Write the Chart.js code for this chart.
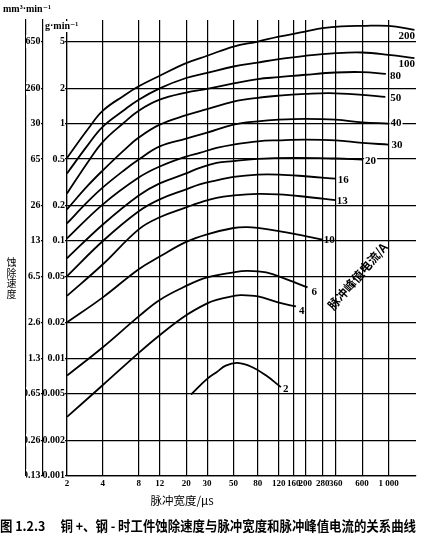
<!DOCTYPE html>
<html><head><meta charset="utf-8">
<script src="https://cdn.jsdelivr.net/npm/chart.js@4.4.1/dist/chart.umd.min.js"></script>
<style>html,body{margin:0;padding:0;background:#fff;}canvas{display:block;}</style>
</head><body>
<canvas id="c" width="432" height="544"></canvas>
<script>
// ---- data (pulse width in µs, erosion rate in g/min) ----
const currents = [200, 100, 80, 50, 40, 30, 20, 16, 13, 10, 6, 4, 2];

const w200 = [2, 3, 4, 6, 8, 12, 20, 30, 50, 80, 120, 200, 280, 400, 600, 1000, 1650];
const v200 = [0.51, 0.90, 1.29, 1.73, 2.08, 2.56, 3.28, 3.79, 4.54, 5.01, 5.52, 6.09, 6.51, 6.75, 6.81, 6.81, 6.30];
const w100 = [2, 3, 4, 6, 8, 12, 20, 30, 50, 80, 120, 200, 360, 600, 1000, 1650];
const v100 = [0.376, 0.659, 0.943, 1.30, 1.60, 2.00, 2.45, 2.71, 3.07, 3.32, 3.55, 3.79, 3.99, 4.04, 3.86, 3.62];
const w80 = [2, 3, 4, 6, 8, 12, 20, 30, 50, 80, 120, 200, 360, 600, 950];
const v80 = [0.254, 0.471, 0.70, 1.017, 1.29, 1.60, 1.84, 1.98, 2.20, 2.40, 2.49, 2.61, 2.73, 2.75, 2.66];
const w50 = [2, 3, 4, 6, 8, 12, 20, 30, 50, 80, 120, 200, 320, 600, 940];
const v50 = [0.186, 0.297, 0.40, 0.592, 0.76, 0.98, 1.18, 1.33, 1.54, 1.66, 1.73, 1.79, 1.82, 1.76, 1.69];
const w40 = [2, 3, 4, 6, 8, 12, 20, 30, 50, 80, 120, 200, 360, 600, 1000];
const v40 = [0.141, 0.217, 0.286, 0.399, 0.494, 0.64, 0.745, 0.838, 0.98, 1.046, 1.08, 1.097, 1.08, 1.026, 1.0];
const w30 = [2, 4, 8, 12, 20, 26, 36, 50, 80, 120, 200, 360, 600, 1000];
const v30 = [0.105, 0.205, 0.347, 0.431, 0.524, 0.563, 0.621, 0.663, 0.707, 0.721, 0.731, 0.721, 0.685, 0.663];
const w20 = [2, 4, 8, 12, 20, 26, 36, 50, 80, 160, 360, 600];
const v20 = [0.0711, 0.138, 0.244, 0.309, 0.376, 0.420, 0.463, 0.478, 0.501, 0.511, 0.504, 0.494];
const w16 = [2, 4, 8, 12, 20, 26, 36, 50, 80, 120, 200, 360];
const v16 = [0.050, 0.0998, 0.179, 0.226, 0.275, 0.303, 0.328, 0.352, 0.368, 0.368, 0.356, 0.339];
const w13 = [2, 4, 8, 12, 20, 26, 36, 50, 80, 120, 200, 360];
const v13 = [0.034, 0.0632, 0.1255, 0.159, 0.193, 0.212, 0.233, 0.244, 0.252, 0.249, 0.238, 0.223];
const w10 = [2, 4, 8, 12, 20, 30, 50, 65, 80, 120, 200, 280];
const v10 = [0.0202, 0.033, 0.0573, 0.0735, 0.098, 0.1138, 0.1288, 0.131, 0.129, 0.1214, 0.110, 0.1026];
const w6 = [2, 4, 8, 12, 20, 30, 50, 65, 94, 138, 209];
const v6 = [0.0071, 0.0124, 0.0227, 0.0314, 0.0413, 0.0488, 0.054, 0.0555, 0.0538, 0.0472, 0.0401];
const w4 = [2, 4, 8, 12, 20, 30, 36, 50, 57, 80, 118, 167];
const v4 = [0.00316, 0.0059, 0.0111, 0.0157, 0.0232, 0.0293, 0.0314, 0.0338, 0.0345, 0.0336, 0.0299, 0.0276];
const w2 = [22, 30, 36, 43, 54, 72, 94, 125];
const v2 = [0.0049, 0.00665, 0.00759, 0.00863, 0.0091, 0.00837, 0.0071, 0.00566];

const xTickValues = [2, 4, 8, 12, 20, 30, 50, 80, 120, 160, 200, 280, 360, 600, 1000];
const xTickLabels = ['2', '4', '8', '12', '20', '30', '50', '80', '120', '160', '200', '280', '360', '600', '1 000'];
const yTickValues = [5, 2, 1, 0.5, 0.2, 0.1, 0.05, 0.02, 0.01, 0.005, 0.002, 0.001];
const gTickLabels = ['5', '2', '1', '0.5', '0.2', '0.1', '0.05', '0.02', '0.01', '0.005', '0.002', '0.001'];
const mmTickLabels = ['650', '260', '30', '65', '26', '13', '6.5', '2.6', '1.3', '0.65', '0.26', '0.13'];

// ---- styling / layout (not data) ----
const series = [[w200, v200], [w100, v100], [w80, v80], [w50, v50], [w40, v40], [w30, v30], [w20, v20],
  [w16, v16], [w13, v13], [w10, v10], [w6, v6], [w4, v4], [w2, v2]];
const labelOffsets = [[-16, 6, 0], [-16, 6, 0], [4, 2, 0], [5, 1, 0], [2, 0, 1], [3, 1, 0], [3, 2, 1],
  [2, 1, 0], [1, 1, 0], [1, 1, 0], [4, 5, 0], [3, 5, 0], [2, 2, 0]];
const serif = '"Liberation Serif", "DejaVu Serif", serif';
const cjk = '"Noto Sans CJK SC", sans-serif';
const caption = '图 1.2.3　 铜 +、钢 - 时工件蚀除速度与脉冲宽度和脉冲峰值电流的关系曲线';
const rotatedLabelAt = [550, 0.05];
const xTitleAt = 18.5;

const datasets = series.map((s, i) => ({
  label: String(currents[i]),
  data: s[0].map((w, j) => ({x: w, y: s[1][j]})),
  borderColor: '#000', borderWidth: 1.8, pointRadius: 0, fill: false,
  tension: 0.4, xAxisID: 'x', yAxisID: 'y'
}));

const setYTicks = s => { s.ticks = yTickValues.map(v => ({value: v})); };

const textPlugin = {
  id: 'texts',
  afterDraw(chart) {
    const {ctx, chartArea, scales} = chart;
    ctx.save();
    // curve labels
    ctx.font = 'bold 11px ' + serif;
    ctx.textBaseline = 'middle'; ctx.textAlign = 'left';
    chart.data.datasets.forEach((ds, i) => {
      const pts = chart.getDatasetMeta(i).data;
      const last = pts[pts.length - 1];
      const off = labelOffsets[i];
      const tx = last.x + off[0], ty = last.y + off[1];
      if (off[2]) {
        const w = ctx.measureText(ds.label).width;
        ctx.fillStyle = '#fff'; ctx.fillRect(tx - 1, ty - 5, w + 2, 10);
      }
      ctx.fillStyle = '#000'; ctx.fillText(ds.label, tx, ty);
    });
    // unit labels at top of the two value axes
    const y2 = scales.y2, y3 = scales.y3;
    ctx.font = 'bold 10px ' + serif;
    ctx.fillStyle = '#000';
    ctx.fillText('mm³·min⁻¹', y3.left + 3, chartArea.top - 11);
    const gTxt = 'g·min⁻¹';
    const gw = ctx.measureText(gTxt).width;
    ctx.fillStyle = '#fff'; ctx.fillRect(y2.right + 1.5, chartArea.top + 1, gw + 2, 11);
    ctx.fillStyle = '#000'; ctx.fillText(gTxt, y2.right + 2, chartArea.top + 6);
    // vertical stacked y title
    ctx.font = '10px ' + cjk; ctx.textAlign = 'center';
    const yt = '蚀除速度';
    for (let k = 0; k < yt.length; k++) ctx.fillText(yt[k], y3.left + 11.5, chartArea.top + 242 + k * 10.8);
    // x title
    ctx.font = '11.5px ' + cjk;
    ctx.fillText('脉冲宽度/μs', scales.x.getPixelForValue(xTitleAt), chartArea.bottom + 25);
    // rotated legend title
    ctx.translate(scales.x.getPixelForValue(rotatedLabelAt[0]), scales.y.getPixelForValue(rotatedLabelAt[1]));
    ctx.rotate(-49 * Math.PI / 180);
    ctx.font = 'bold 12px ' + cjk;
    ctx.fillText('脉冲峰值电流/A', 0, 0);
    ctx.restore();
  }
};

new Chart(document.getElementById('c'), {
  type: 'line',
  data: {datasets},
  plugins: [textPlugin],
  options: {
    responsive: false, animation: false,
    layout: {padding: {top: 20, right: 16, left: 0, bottom: 0}},
    plugins: {
      legend: {display: false}, tooltip: {enabled: false},
      title: {display: true, position: 'bottom', text: caption, color: '#000',
        font: {family: cjk, size: 13.3, weight: 'bold'}, padding: {top: 4, bottom: 10}}
    },
    scales: {
      x: {
        type: 'logarithmic', min: 2, max: 1700, position: 'bottom',
        afterBuildTicks: s => { s.ticks = xTickValues.map(v => ({value: v})); },
        afterFit: s => { s.height = 38.6; },
        grid: {color: '#000', lineWidth: 1.2, drawTicks: false},
        border: {color: '#000', width: 1.2},
        ticks: {autoSkip: false, maxRotation: 0, minRotation: 0, padding: 3, color: '#000',
          font: {family: serif, size: 9, weight: 'bold'},
          callback: v => xTickLabels[xTickValues.indexOf(v)]}
      },
      y: {
        type: 'logarithmic', min: 0.001, max: 7.65, position: 'left', weight: 0,
        afterBuildTicks: setYTicks,
        afterFit: s => { s.width = 24; },
        grid: {color: '#000', lineWidth: 1.2, tickLength: 2},
        border: {color: '#000', width: 1.2},
        ticks: {padding: 0, color: '#000', font: {family: serif, size: 10, weight: 'bold'},
          callback: v => gTickLabels[yTickValues.indexOf(v)]}
      },
      y2: {
        type: 'logarithmic', min: 0.001, max: 7.65, position: 'left', weight: 1,
        afterBuildTicks: setYTicks,
        afterFit: s => { s.width = 17; },
        grid: {color: '#000', lineWidth: 1.2, tickLength: 2.5, drawOnChartArea: false},
        border: {color: '#000', width: 1.2},
        ticks: {padding: 0, color: '#000', font: {family: serif, size: 10, weight: 'bold'},
          showLabelBackdrop: true, backdropColor: '#fff', backdropPadding: 0.5,
          callback: v => mmTickLabels[yTickValues.indexOf(v)]}
      },
      y3: {
        type: 'logarithmic', min: 0.001, max: 7.65, position: 'left', weight: 2,
        afterBuildTicks: setYTicks,
        afterFit: s => { s.width = 26; },
        grid: {display: false},
        border: {display: true, color: '#000', width: 1.2, z: -1},
        ticks: {display: false}
      }
    }
  }
});
</script>
</body></html>
